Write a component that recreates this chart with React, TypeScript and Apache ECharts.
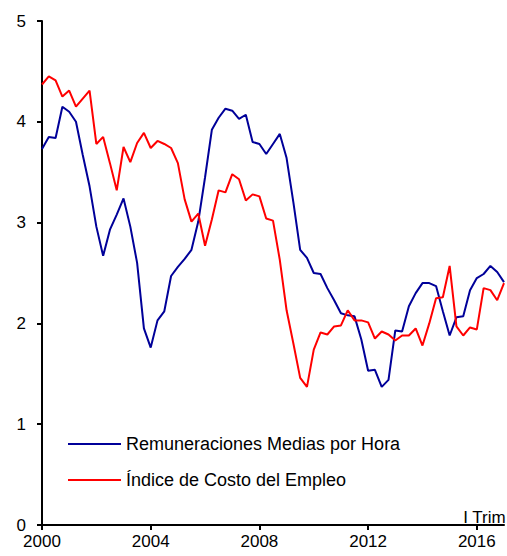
import React, { useEffect, useRef } from "react";
import * as echarts from "echarts";

const years = [2000, 2001, 2002, 2003, 2004, 2005, 2006, 2007, 2008, 2009, 2010, 2011, 2012, 2013, 2014, 2015, 2016, 2017];
const quarters = ["I", "II", "III", "IV"];
const categories: string[] = [];
years.forEach((y) => quarters.forEach((q) => { if (!(y === 2017 && q !== "I")) categories.push(`${y}-${q}`); }));

const remuneraciones = [
  3.73, 3.85, 3.84, 4.15, 4.10, 4.00, 3.67, 3.36, 2.96, 2.67, 2.93, 3.08, 3.24, 2.96, 2.60, 1.95,
  1.76, 2.03, 2.12, 2.47, 2.56, 2.64, 2.73, 3.01, 3.45, 3.92, 4.04, 4.13, 4.11, 4.03, 4.07, 3.80,
  3.78, 3.68, 3.78, 3.88, 3.64, 3.20, 2.73, 2.65, 2.50, 2.49, 2.35, 2.23, 2.10, 2.08, 2.07, 1.84,
  1.53, 1.54, 1.37, 1.44, 1.93, 1.92, 2.17, 2.30, 2.40, 2.40, 2.37, 2.12, 1.88, 2.06, 2.07, 2.33,
  2.45, 2.49, 2.57, 2.51, 2.41,
];

const indiceCosto = [
  4.37, 4.45, 4.41, 4.25, 4.31, 4.15, 4.23, 4.31, 3.78, 3.85, 3.59, 3.32, 3.75, 3.60, 3.79, 3.89,
  3.74, 3.81, 3.78, 3.74, 3.59, 3.23, 3.01, 3.09, 2.77, 3.03, 3.32, 3.30, 3.48, 3.43, 3.22, 3.28,
  3.26, 3.04, 3.02, 2.63, 2.13, 1.80, 1.46, 1.37, 1.74, 1.91, 1.89, 1.97, 1.98, 2.13, 2.03, 2.03,
  2.01, 1.85, 1.92, 1.89, 1.83, 1.88, 1.88, 1.95, 1.78, 2.00, 2.25, 2.26, 2.57, 1.97, 1.88, 1.96,
  1.94, 2.35, 2.33, 2.23, 2.40,
];

const seriesNames = ["Remuneraciones Medias por Hora", "Índice de Costo del Empleo"];
const yTicks = [0, 1, 2, 3, 4, 5];
const lastLabel = "I Trim";

const FONT = "'Liberation Sans', Arial, sans-serif";

export default function App() {
  const ref = useRef<HTMLDivElement>(null);
  useEffect(() => {
    if (!ref.current) return;
    const chart = echarts.init(ref.current, null, { renderer: "svg" });
    const showTick = (idx: number) => idx % 16 === 0;
    chart.setOption({
      animation: false,
      backgroundColor: "#fff",
      textStyle: { fontFamily: FONT },
      grid: { left: 42, right: 3, top: 21, bottom: 31, containLabel: false },
      xAxis: {
        type: "category",
        data: categories,
        boundaryGap: false,
        axisLine: { show: true, lineStyle: { color: "#000", width: 2 } },
        axisTick: { show: true, interval: (i: number) => showTick(i), length: 5, lineStyle: { color: "#000", width: 2 } },
        axisLabel: {
          interval: (i: number) => showTick(i),
          formatter: (v: string) => v.split("-")[0],
          color: "#000",
          fontSize: 17,
          fontFamily: FONT,
          margin: 8,
        },
        splitLine: { show: false },
      },
      yAxis: {
        type: "value",
        min: yTicks[0],
        max: yTicks[yTicks.length - 1],
        interval: 1,
        axisLine: { show: true, lineStyle: { color: "#000", width: 2 } },
        axisTick: { show: true, length: 5, lineStyle: { color: "#000", width: 2 } },
        axisLabel: { color: "#000", fontSize: 17, fontFamily: FONT, margin: 16 },
        splitLine: { show: false },
      },
      legend: [
        {
          data: [seriesNames[0]],
          left: 63,
          top: 430,
          icon: "rect",
          itemWidth: 53,
          itemHeight: 2,
          itemGap: 6,
          textStyle: { fontSize: 18, color: "#000", fontFamily: FONT },
        },
        {
          data: [seriesNames[1]],
          left: 63,
          top: 466,
          icon: "rect",
          itemWidth: 53,
          itemHeight: 2,
          itemGap: 6,
          textStyle: { fontSize: 18, color: "#000", fontFamily: FONT },
        },
      ],
      graphic: [
        {
          type: "text",
          right: 1,
          top: 509,
          style: { text: lastLabel, fontSize: 17, fill: "#000", fontFamily: FONT },
        },
      ],
      series: [
        {
          name: seriesNames[0],
          type: "line",
          data: remuneraciones,
          showSymbol: false,
          symbol: "none",
          lineStyle: { color: "#000099", width: 2 },
          itemStyle: { color: "#000099" },
        },
        {
          name: seriesNames[1],
          type: "line",
          data: indiceCosto,
          showSymbol: false,
          symbol: "none",
          lineStyle: { color: "#FF0000", width: 2 },
          itemStyle: { color: "#FF0000" },
        },
      ],
    });
    return () => chart.dispose();
  }, []);
  return (
    <div
      ref={ref}
      style={{ position: "fixed", left: 0, top: 0, width: 507, height: 556 }}
    />
  );
}
